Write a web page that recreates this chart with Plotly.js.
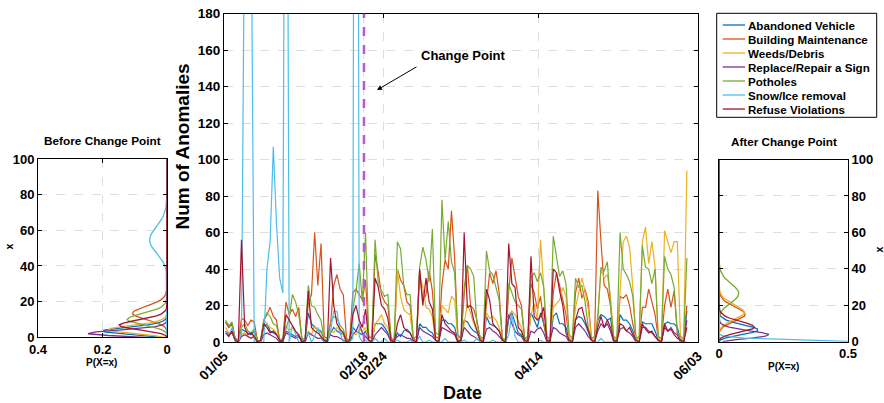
<!DOCTYPE html>
<html><head><meta charset="utf-8">
<script src="https://cdn.plot.ly/plotly-3.0.1.min.js"></script>
<style>html,body{margin:0;padding:0;background:#fff}#chart{width:884px;height:403px}</style>
</head><body><div id="chart"></div>
<script>
// ---------- data ----------
const startDate = '2011-01-05';
const changePoint = '2011-02-18';
const axisEnd = '2011-06-03';
const seriesNames = ['Abandoned Vehicle','Building Maintenance','Weeds/Debris','Replace/Repair a Sign','Potholes','Snow/Ice removal','Refuse Violations'];
const seriesColors = ['#0072BD','#D95319','#EDB120','#7E2F8E','#77AC30','#4DBEEE','#A2142F'];
const tickDates = ['2011-01-05','2011-02-18','2011-02-24','2011-04-14','2011-06-03'];
const tickLabels = ['01/05','02/18','02/24','04/14','06/03'];

const abandonedVehicle = [
11,8,10,2,1,7,6, 5,4,6,1,0,8,10, 6,5,4,1,0,6,5, 4,3,4,0,1,16,10, 8,7,6,1,0,5,8,
6,5,4,0,1,8,6, 5,4,6,1,0,10,10, 10,8,5,1,0,5,3, 6,7,5,1,0,10,8, 8,6,5,1,0,12,12,
10,10,8,1,0,12,11, 8,6,5,1,0,14,10, 9,8,6,1,0,13,16, 10,5,4,1,0,16,12, 8,16,10,1,0,14,16,
10,10,8,1,0,12,14, 13,10,6,1,0,12,15, 14,12,13,1,0,15,12, 12,10,6,1,0,11,10, 10,10,6,1,0,10,11,
10,10,8,1,0,17];
const buildingMaintenance = [
11,8,10,1,0,13,12, 9,12,11,1,0,12,15, 19,14,12,1,2,22,15, 18,14,19,1,2,21,26, 60,31,54,3,2,10,31,
37,29,26,2,1,27,29, 26,23,34,3,2,48,38, 26,22,20,2,1,40,34, 31,22,20,2,1,39,22, 26,39,28,3,2,31,45,
40,72,46,3,2,26,42, 20,18,12,2,1,21,38, 32,39,27,2,1,28,46, 35,25,20,2,1,32,27, 18,25,10,2,1,27,38,
31,22,15,2,1,27,35, 24,29,22,2,1,83,55, 31,29,20,2,1,25,24, 26,20,10,2,1,19,19, 29,22,15,2,1,20,29,
19,28,5,2,1,20];
const weedsDebris = [
8,5,6,1,0,4,5, 3,2,4,0,0,12,10, 8,7,5,0,1,9,6, 8,5,4,0,1,6,4, 9,6,5,0,1,7,5,
8,6,4,1,0,5,4, 7,6,8,1,0,10,12, 15,10,8,1,0,40,25, 18,16,15,1,1,37,30, 19,18,14,1,1,20,18,
16,25,23,2,1,10,21, 16,10,6,1,1,16,13, 14,12,8,1,1,15,17, 15,11,8,1,1,15,21, 12,56,30,2,1,19,21,
23,30,25,2,1,19,28, 35,28,18,2,1,15,40, 35,37,25,2,1,30,55, 58,52,30,2,1,55,63, 43,55,41,2,1,61,55,
49,55,55,2,1,94];
const replaceSign = [
6,4,5,1,0,3,4, 3,2,3,0,0,4,5, 4,3,2,0,1,5,4, 3,2,3,0,0,5,4, 3,2,2,0,1,4,3,
3,2,1,0,0,4,6, 10,5,3,1,0,4,6, 8,6,4,0,1,3,4, 3,2,2,0,0,8,6, 5,4,3,1,0,8,7,
6,5,4,0,1,8,6, 4,3,2,0,0,7,8, 6,5,3,1,0,15,10, 6,4,3,0,0,6,5, 7,8,5,0,1,8,7,
5,4,3,0,0,8,10, 8,6,3,1,0,6,10, 8,10,6,0,1,7,8, 6,5,3,0,0,8,8, 6,5,3,1,0,8,6,
8,5,4,0,0,12];
const potholes = [
12,9,11,2,1,8,10, 6,5,7,1,0,12,16, 14,10,9,1,2,8,13, 26,22,15,2,1,31,20, 19,15,12,1,2,11,14,
13,9,7,1,0,18,28, 43,22,60,2,3,56,32, 28,25,26,2,1,55,51, 31,26,26,2,3,41,52, 45,33,62,5,4,78,45,
66,44,38,4,2,30,42, 40,36,10,3,2,50,39, 37,30,23,1,2,32,27, 22,20,18,2,3,35,38, 33,38,30,3,2,58,47,
36,39,32,4,2,35,30, 31,22,8,2,3,12,41, 39,44,20,3,2,60,40, 37,33,25,2,3,53,41, 40,32,40,3,2,47,40,
37,30,5,3,2,46];
const snowIce = [
6,3,8,0,0,5,250, 500,250,0,0,0,0,40, 55,107,65,35,27,500,0, 9,4,0,0,2,5,0, 3,8,2,0,0,6,17,
17,5,0,0,0,2,900, 3,0,1,0,0,2,0, 0,2,0,0,0,1,0, 0,0,1,0,0,3,0, 0,1,0,0,0,0,2,
0,0,0,0,0,1,0, 0,0,2,0,0,0,0, 1,0,0,0,0,4,15, 3,0,0,0,0,0,0, 0,1,0,0,0,0,0,
0,0,0,0,0,0,0, 0,0,0,0,0,0,2, 0,0,0,0,0,0,0, 0,0,0,0,0,0,0, 0,0,0,0,0,0,0,
0,0,0,0,0,0];
const refuseViolations = [
5,3,6,1,0,56,8, 4,5,3,0,1,10,8, 5,6,4,1,0,15,12, 9,6,4,0,1,28,8, 6,5,3,1,0,46,20,
10,7,5,0,1,15,20, 12,8,18,1,0,35,30, 20,18,13,1,0,10,15, 8,6,5,1,0,40,20, 35,22,18,1,0,15,10,
8,6,5,0,1,60,19, 20,12,6,1,0,29,23, 10,8,6,1,0,54,32, 30,8,6,1,0,47,14, 12,14,19,1,0,40,38,
28,20,5,1,0,12,18, 19,12,6,1,0,8,14, 8,12,8,1,0,10,9, 6,8,4,1,0,10,7, 5,6,3,1,0,10,6,
7,4,2,1,0,8];

// Poisson rates fitted before / after the change point (same order as seriesNames)
const lambdaBefore = [4.0, 14.0, 4.8, 2.7, 10.5, 55.0, 7.3];
const lambdaAfter  = [7.0, 15.5, 16.5, 4.3, 27.0, 0.6, 8.5];

// ---------- build ----------
const allSeries = [abandonedVehicle, buildingMaintenance, weedsDebris, replaceSign, potholes, snowIce, refuseViolations];
const t0 = Date.parse(startDate + 'T00:00:00Z');
function dayStamp(i){
  const d = new Date(t0 + i*86400000 + 12*3600000);
  return d.toISOString().slice(0,10) + ' 12:00';
}
function lnFact(k){ let s = 0; for (let j = 2; j <= k; j++) s += Math.log(j); return s; }
function pmf(lam){
  const ks = [], ps = [];
  for (let k = 0; k <= 100; k++){ ks.push(k); ps.push(Math.exp(-lam + k*Math.log(lam) - lnFact(k))); }
  return {ks, ps};
}

const traces = [];
allSeries.forEach((vals, s) => {
  traces.push({type:'scatter', mode:'lines', name:seriesNames[s], x:vals.map((v,i)=>dayStamp(i)), y:vals,
    xaxis:'x', yaxis:'y', line:{color:seriesColors[s], width:1.2}, showlegend:false, hoverinfo:'skip'});
});
lambdaBefore.forEach((lam, s) => {
  const p = pmf(lam);
  traces.push({type:'scatter', mode:'lines', x:p.ps, y:p.ks, xaxis:'x2', yaxis:'y2',
    line:{color:seriesColors[s], width:1.3}, showlegend:false, hoverinfo:'skip'});
});
lambdaAfter.forEach((lam, s) => {
  const p = pmf(lam);
  traces.push({type:'scatter', mode:'lines', x:p.ps, y:p.ks, xaxis:'x3', yaxis:'y3',
    line:{color:seriesColors[s], width:1.3}, showlegend:false, hoverinfo:'skip'});
});

const W = 884, H = 403;
const px = v => v / W, py = v => 1 - v / H;
const FONT = 'Liberation Sans, Arial, Helvetica, sans-serif';
const tf = size => ({family:FONT, size:size, color:'#000', weight:'bold'});
const gridCol = 'rgb(222,222,222)';
const axBase = {showline:true, linecolor:'#000', linewidth:1, mirror:'ticks', ticks:'inside', ticklen:4,
  tickcolor:'#000', zeroline:false, gridcolor:gridCol, griddash:'dash', gridwidth:1, fixedrange:true};

const shapes = [
  {type:'line', xref:'x', yref:'y domain', x0:changePoint, x1:changePoint, y0:0, y1:1,
   line:{color:'rgb(196,84,204)', width:2.5, dash:'dash'}}
];
const annotations = [
  {xref:'paper', yref:'paper', x:px(181.5), y:py(147), text:'<b>Num of Anomalies</b>', textangle:-90,
   showarrow:false, font:tf(19), xanchor:'center', yanchor:'middle'},
  {xref:'paper', yref:'paper', x:px(462), y:py(393), text:'<b>Date</b>', showarrow:false, font:tf(18), xanchor:'center', yanchor:'middle'},
  {xref:'paper', yref:'paper', x:px(462.5), y:py(55), text:'<b>Change Point</b>', showarrow:false, font:tf(13), xanchor:'center', yanchor:'middle'},
  {xref:'paper', yref:'paper', x:px(377), y:py(90), text:'', showarrow:true, ax:41, ay:-24,
   arrowhead:2, arrowsize:1, arrowwidth:1, arrowcolor:'#000'},
  {xref:'paper', yref:'paper', x:px(102.5), y:py(141.5), text:'<b>Before Change Point</b>', showarrow:false, font:tf(11.8), xanchor:'center', yanchor:'middle'},
  {xref:'paper', yref:'paper', x:px(783.5), y:py(141.7), text:'<b>After Change Point</b>', showarrow:false, font:tf(11.7), xanchor:'center', yanchor:'middle'},
  {xref:'paper', yref:'paper', x:px(8.5), y:py(247), text:'<b>x</b>', textangle:-90, showarrow:false, font:tf(10.5), xanchor:'center', yanchor:'middle'},
  {xref:'paper', yref:'paper', x:px(878.5), y:py(250), text:'<b>x</b>', textangle:-90, showarrow:false, font:tf(10.5), xanchor:'center', yanchor:'middle'},
  {xref:'paper', yref:'paper', x:px(101.7), y:py(362), text:'<b>P(X=x)</b>', showarrow:false, font:tf(10), xanchor:'center', yanchor:'middle'},
  {xref:'paper', yref:'paper', x:px(783), y:py(366), text:'<b>P(X=x)</b>', showarrow:false, font:tf(10), xanchor:'center', yanchor:'middle'}
];
// custom legend box
shapes.push({type:'rect', xref:'paper', yref:'paper', x0:px(716.7), x1:px(876.7), y0:py(117.3), y1:py(13.3),
  line:{color:'#000', width:1}, fillcolor:'#fff', layer:'above'});
seriesNames.forEach((n, i) => {
  const yc = 25 + 14*i;
  shapes.push({type:'line', xref:'paper', yref:'paper', x0:px(722.7), x1:px(745), y0:py(yc), y1:py(yc),
    line:{color:seriesColors[i], width:1.3}, layer:'above'});
  annotations.push({xref:'paper', yref:'paper', x:px(746), y:py(yc), text:'<b>'+n+'</b>', showarrow:false,
    font:tf(11.6), xanchor:'left', yanchor:'middle'});
});

const layout = {
  width:W, height:H, margin:{l:0,r:0,t:0,b:0}, paper_bgcolor:'#fff', plot_bgcolor:'#fff',
  font:{family:FONT, color:'#000'}, showlegend:false,
  xaxis: Object.assign({}, axBase, {domain:[px(224), px(698)], anchor:'y', type:'date',
    range:[startDate, axisEnd], tickvals:tickDates, ticktext:tickLabels, tickangle:-45, tickfont:tf(13.5), showgrid:true}),
  yaxis: Object.assign({}, axBase, {domain:[py(342), py(13.7)], anchor:'x', range:[0,180], tickvals:[0,20,40,60,80,100,120,140,160,180],
    tickfont:tf(13.5), showgrid:true}),
  xaxis2: Object.assign({}, axBase, {domain:[px(38), px(167)], anchor:'y2', range:[0.4,0], tickvals:[0.4,0.2,0], ticktext:['0.4','0.2','0'],
    tickfont:tf(13), showgrid:true}),
  yaxis2: Object.assign({}, axBase, {domain:[py(337.3), py(159)], anchor:'x2', range:[0,100], tickvals:[0,20,40,60,80,100],
    tickfont:tf(13), showgrid:true}),
  xaxis3: Object.assign({}, axBase, {domain:[px(719), px(848)], anchor:'y3', range:[0,0.5], tickvals:[0,0.5], ticktext:['0','0.5'],
    tickfont:tf(13), showgrid:false}),
  yaxis3: Object.assign({}, axBase, {domain:[py(341.7), py(159.5)], anchor:'x3', side:'right', range:[0,100], tickvals:[0,20,40,60,80,100],
    tickfont:tf(13), showgrid:true}),
  shapes:shapes, annotations:annotations
};
Plotly.newPlot('chart', traces, layout, {staticPlot:true, displayModeBar:false});
</script></body></html>
